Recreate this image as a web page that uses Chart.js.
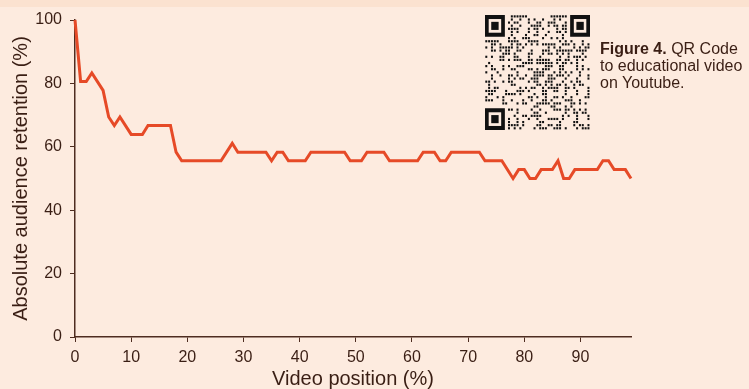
<!DOCTYPE html>
<html>
<head>
<meta charset="utf-8">
<script src="https://cdn.jsdelivr.net/npm/chart.js@4"></script>
<style>
  html, body { margin: 0; padding: 0; }
  body { width: 749px; height: 389px; background: #fdebdf; position: relative; overflow: hidden; font-family: "Liberation Sans", Arial, sans-serif; }
  #strip { position: absolute; left: 0; top: 0; width: 749px; height: 7px; background: #fbe2d0; }
  #wrap { position: absolute; left: 0; top: 0; width: 749px; height: 389px; }
  #qr { position: absolute; left: 485px; top: 15px; }
  #caption { position: absolute; left: 600px; top: 40px; font-size: 16px; line-height: 17px; color: #3a1e14; white-space: nowrap; }
</style>
</head>
<body>
<div id="strip"></div>
<div id="wrap"><canvas id="chart" width="749" height="389"></canvas></div>
<canvas id="qr" width="105" height="115"></canvas>
<div id="caption"><b>Figure 4.</b> QR Code<br>to educational video<br>on Youtube.</div>
<script>
// data (video position %, retention %)
var positions = [0, 1, 2, 3, 5, 6, 7, 8, 10, 12, 13, 17, 18, 19, 26, 28, 29, 34, 35, 36, 37, 38, 41, 42, 48, 49, 51, 52, 55, 56, 61, 62, 64, 65, 66, 67, 72, 73, 76, 78, 79, 80, 81, 82, 83, 85, 86, 87, 88, 89, 93, 94, 95, 96, 98, 99];
var retention = [100, 80.6, 80.6, 83.3, 77.8, 69.4, 66.7, 69.4, 63.9, 63.9, 66.7, 66.7, 58.3, 55.6, 55.6, 61.1, 58.3, 58.3, 55.6, 58.3, 58.3, 55.6, 55.6, 58.3, 58.3, 55.6, 55.6, 58.3, 58.3, 55.6, 55.6, 58.3, 58.3, 55.6, 55.6, 58.3, 58.3, 55.6, 55.6, 50, 52.8, 52.8, 50, 50, 52.8, 52.8, 55.6, 50, 50, 52.8, 52.8, 55.6, 55.6, 52.8, 52.8, 50];
var xTicks = [0, 10, 20, 30, 40, 50, 60, 70, 80, 90];
var yTicks = [0, 20, 40, 60, 80, 100];

var brown = '#4e2c20';
var textCol = '#3a1e14';

var points = positions.map(function (p, i) { return { x: p, y: retention[i] }; });

new Chart(document.getElementById('chart'), {
  type: 'line',
  data: {
    datasets: [{
      data: points,
      borderColor: '#e64a27',
      borderWidth: 3,
      pointRadius: 0,
      tension: 0,
      fill: false,
      clip: 4
    }]
  },
  options: {
    responsive: false,
    animation: false,
    layout: { padding: { left: 0, top: 20, right: 118, bottom: 0 } },
    plugins: { legend: { display: false }, tooltip: { enabled: false } },
    scales: {
      x: {
        type: 'linear',
        min: 0,
        max: 99,
        afterBuildTicks: function (scale) {
          scale.ticks = xTicks.map(function (v) { return { value: v }; });
        },
        afterFit: function (scale) { scale.height = 52; },
        grid: { drawOnChartArea: false, tickLength: 5, color: brown, lineWidth: 1 },
        border: { color: brown, width: 1.5 },
        ticks: { color: textCol, padding: 6, maxRotation: 0, font: { family: 'Liberation Sans', size: 16 } },
        title: {
          display: true,
          text: 'Video position (%)',
          color: textCol,
          padding: { top: 0, bottom: 0 },
          font: { family: 'Liberation Sans', size: 20, lineHeight: 1 }
        }
      },
      y: {
        min: 0,
        max: 100,
        afterBuildTicks: function (scale) {
          scale.ticks = yTicks.map(function (v) { return { value: v }; });
        },
        afterFit: function (scale) { scale.width = 75; },
        grid: { drawOnChartArea: false, tickLength: 5, color: brown, lineWidth: 1 },
        border: { color: brown, width: 1.5 },
        ticks: { color: textCol, padding: 8, font: { family: 'Liberation Sans', size: 16 } },
        title: {
          display: true,
          text: 'Absolute audience retention (%)',
          color: textCol,
          padding: { top: 11, bottom: 0 },
          font: { family: 'Liberation Sans', size: 20, lineHeight: 1 }
        }
      }
    }
  }
});

// QR code decoration
(function () {
  var c = document.getElementById('qr');
  var ctx = c.getContext('2d');
  var n = 37;
  var mw = c.width / n, mh = c.height / n;
  function inFinder(i, j) {
    return (i < 8 && j < 8) || (i > n - 9 && j < 8) || (i < 8 && j > n - 9);
  }
  ctx.fillStyle = '#111';
  for (var i = 0; i < n; i++) {
    for (var j = 0; j < n; j++) {
      if (inFinder(i, j)) continue;
      var h = ((i * 73856093) ^ (j * 19349663) ^ (i * j * 83492791)) >>> 0;
      if (h % 100 < 42) {
        ctx.fillRect(i * mw + 0.3, j * mh + 0.3, mw * 0.7, mh * 0.7);
      }
    }
  }
  function finder(i, j) {
    var x = i * mw, y = j * mh;
    ctx.fillStyle = '#111';
    ctx.fillRect(x, y, 7 * mw, 7 * mh);
    ctx.fillStyle = '#fdebdf';
    ctx.fillRect(x + 1.3 * mw, y + 1.3 * mh, 4.4 * mw, 4.4 * mh);
    ctx.fillStyle = '#111';
    ctx.fillRect(x + 2.2 * mw, y + 2.2 * mh, 2.6 * mw, 2.6 * mh);
  }
  finder(0, 0);
  finder(n - 7, 0);
  finder(0, n - 7);
})();
</script>
</body>
</html>
